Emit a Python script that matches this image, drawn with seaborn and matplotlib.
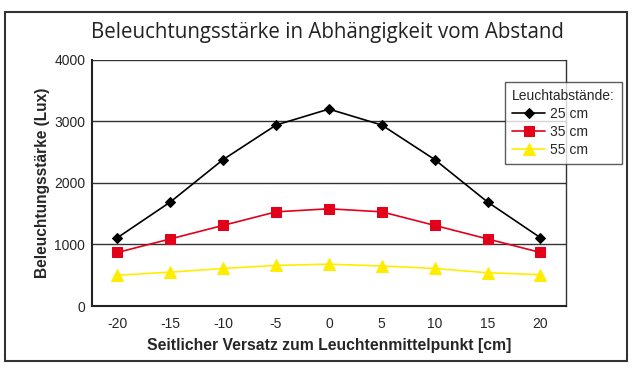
import pandas as pd
import matplotlib.pyplot as plt
import seaborn as sns
from matplotlib.patches import Rectangle

# Values
versatz = [-20, -15, -10, -5, 0, 5, 10, 15, 20]
lux_25 = [1110, 1690, 2380, 2940, 3200, 2940, 2380, 1690, 1110]
lux_35 = [870, 1090, 1310, 1530, 1580, 1530, 1310, 1090, 870]
lux_55 = [500, 550, 610, 660, 680, 650, 610, 540, 510]
serien = ['25 cm', '35 cm', '55 cm']

df = pd.DataFrame({
    'x': versatz * 3,
    'y': lux_25 + lux_35 + lux_55,
    'Abstand': [serien[0]] * 9 + [serien[1]] * 9 + [serien[2]] * 9,
})

sns.set_style('white')
plt.rcParams['font.family'] = ['Liberation Sans', 'DejaVu Sans']

fig = plt.figure(figsize=(6.35, 3.73), dpi=100)
ax = fig.add_axes([0.145, 0.1796, 0.746, 0.66])

farben = {'25 cm': '#000000', '35 cm': '#e2001a', '55 cm': '#ffed00'}
marker = {'25 cm': 'D', '35 cm': 's', '55 cm': '^'}
groesse = {'25 cm': 5, '35 cm': 7, '55 cm': 8}

for s in serien:
    d = df[df['Abstand'] == s]
    sns.lineplot(data=d, x='x', y='y', ax=ax, color=farben[s], marker=marker[s],
                 markersize=groesse[s], markeredgecolor=farben[s], linewidth=1.2,
                 label=s, zorder=3)

ax.set_xlim(-22.4, 22.4)
ax.set_ylim(0, 4000)
ax.set_xticks(versatz)
ax.set_xticklabels([str(v) for v in versatz])
ax.set_yticks([0, 1000, 2000, 3000, 4000])
ax.tick_params(axis='both', labelsize=10, length=0)
ax.tick_params(axis='y', pad=5)
ax.tick_params(axis='x', pad=8)
for yv in [1000, 2000, 3000, 4000]:
    ax.axhline(yv, color='#333333', linewidth=1.0, zorder=1)
ax.spines['top'].set_visible(False)
for sp in ['left', 'bottom']:
    ax.spines[sp].set_color('#222222')
    ax.spines[sp].set_linewidth(1.5)
ax.spines['right'].set_color('#333333')
ax.spines['right'].set_linewidth(1.0)

ax.set_xlabel('Seitlicher Versatz zum Leuchtenmittelpunkt [cm]', fontsize=11.3,
              fontweight='bold', labelpad=5)
ax.set_ylabel('Beleuchtungsstärke (Lux)', fontsize=11.2, fontweight='bold', labelpad=3)

leg = ax.legend(title='Leuchtabstände:', loc='upper left', bbox_to_anchor=(0.872, 0.911),
                fontsize=10, title_fontsize=10, frameon=True, fancybox=False,
                handlelength=2.4, borderpad=0.5, labelspacing=0.3, handletextpad=0.3,
                borderaxespad=0)
leg._legend_box.align = 'left'
leg.get_frame().set_edgecolor('#333333')
leg.get_frame().set_linewidth(1.0)
leg.set_zorder(5)

fig.text(0.515, 0.912, 'Beleuchtungsstärke in Abhängigkeit vom Abstand',
         ha='center', va='center', fontsize=14.8, family=['Open Sans', 'DejaVu Sans'],
         color='#222222')

fig.patches.append(Rectangle((0.008, 0.033), 0.98, 0.935, transform=fig.transFigure,
                             fill=False, edgecolor='#333333', linewidth=1.5))

fig.savefig('out.png', dpi=100)
